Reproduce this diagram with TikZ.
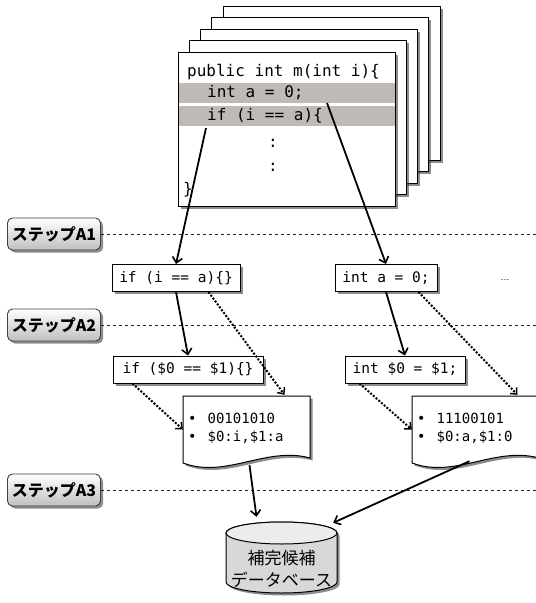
\documentclass[tikz,border=0pt]{standalone}
\usepackage{fontspec}
\setmainfont{Liberation Sans}
\newfontfamily\jp{Noto Sans CJK JP}
\newfontfamily\code{DejaVu Sans Mono}
\usetikzlibrary{arrows.meta,shadows,calc}
\definecolor{barcol}{RGB}{191,186,181}
\definecolor{dbbody}{RGB}{216,216,216}
\definecolor{dbtop}{RGB}{236,236,236}
\tikzset{
  shad/.style={drop shadow={shadow xshift=2.5pt,shadow yshift=-2.5pt,fill=black!75,opacity=0.6}},
  page/.style={draw=black,fill=white,line width=1pt,shad},
  steplabel/.style={draw=black!75,line width=0.9pt,rounded corners=5pt,top color=white,bottom color=black!25,
     minimum width=93pt,minimum height=32pt,inner sep=0pt,font=\jp\bfseries\fontsize{16}{16}\selectfont,shad},
  stepline/.style={draw=black!85,line width=0.9pt,dash pattern=on 3.5pt off 2.5pt},
  codebox/.style={draw=black,fill=white,line width=1pt,inner xsep=5pt,inner ysep=0pt,minimum height=27pt,
     font=\code\fontsize{14.5}{15}\selectfont,shad},
  doc/.style={draw=black,fill=white,line width=1pt,shad},
  sol/.style={line width=1.8pt,-{Straight Barb[length=5.5pt,width=10pt,line width=1.6pt]}},
  dot/.style={line width=2pt,dash pattern=on 2pt off 1.6pt,-{Straight Barb[length=5pt,width=9pt,line width=1.5pt]}},
  codetxt/.style={anchor=west,inner sep=0pt,font=\code\fontsize{16}{16}\selectfont},
  doctxt/.style={anchor=west,inner sep=0pt,align=left,font=\code\fontsize{14}{18}\selectfont},
}
\begin{document}
\begin{tikzpicture}[x=1pt,y=-1pt]
\useasboundingbox[fill=white] (0,0) rectangle (536,603);
% stacked pages (back to front)
\foreach \k in {4,3,2,1}{
  \filldraw[page] ({178+11.3*\k},{52-11.5*\k}) rectangle ++(217,154);
}
\filldraw[page] (178,52) rectangle (395,206);
\fill[barcol] (178.5,83) rectangle (394.5,103);
\fill[barcol] (178.5,106) rectangle (394.5,126);
\node[codetxt] (l1) at (187,72) {public int m(int i)\{};
\node[codetxt] (l2) at (207,93) {int a = 0;};
\node[codetxt] (l3) at (207,116) {if (i == a)\{};
\node[codetxt,anchor=center] (l4) at (273,143) {:};
\node[codetxt,anchor=center] (l5) at (273,167) {:};
\node[codetxt] (l6) at (183,190) {\}};
\coordinate (p1) at (206,128);
\coordinate (p2) at (327,103);

% step labels and lines
\node[steplabel] (a1) at (54,234) {ステップA1};
\node[steplabel] (a2) at (54,325) {ステップA2};
\node[steplabel] (a3) at (54,490) {ステップA3};
\coordinate (e1) at (536,234);
\coordinate (e2) at (536,325);
\coordinate (e3) at (536,490);
\draw[stepline] (a1.east) -- (e1);
\draw[stepline] (a2.east) -- (e2);
\draw[stepline] (a3.east) -- (e3);

% code boxes
\node[codebox,minimum width=128pt] (b1) at (176,278) {if (i == a)\{\}};
\node[codebox,minimum width=102pt] (b2) at (386,278) {int a = 0;};
\node[codebox,minimum width=150pt] (b3) at (188,369.5) {if (\$0 == \$1)\{\}};
\node[codebox,minimum width=120pt] (b4) at (405,369.5) {int \$0 = \$1;};
\node[font=\fontsize{9}{9}\selectfont] (dots) at (505,280) {\dots};

% documents
\node[minimum width=127pt,minimum height=67pt,inner sep=0pt] (d1) at (246.5,429.5) {};
\node[minimum width=127pt,minimum height=67pt,inner sep=0pt] (d2) at (475.5,429.5) {};
\filldraw[doc] (183,396) -- (310,396) -- (310,458) .. controls (266,446) and (226,479) .. (183,463) -- cycle;
\filldraw[doc] (412,396) -- (539,396) -- (539,458) .. controls (495,446) and (455,479) .. (412,463) -- cycle;
\node[doctxt] (t1) at (188,428) {\textbullet\hspace{11pt}00101010\\\textbullet\hspace{11pt}\$0:i,\$1:a};
\node[doctxt] (t2) at (417,428) {\textbullet\hspace{11pt}11100101\\\textbullet\hspace{11pt}\$0:a,\$1:0};

% database
\filldraw[draw=black,fill=dbbody,line width=1pt,shad]
  (226,533) -- (226,582) arc[start angle=180,end angle=0,x radius=55.5,y radius=11]
  -- (337,533) arc[start angle=0,end angle=-180,x radius=55.5,y radius=11] -- cycle;
\filldraw[draw=black,fill=dbtop,line width=1pt] (281.5,533) ellipse[x radius=55.5,y radius=11];
\node[minimum width=111pt,minimum height=71pt,inner sep=0pt] (db) at (281.5,557.5) {};
\node[align=center,font=\jp\fontsize{17}{22}\selectfont] (dbt) at (281.5,569) {補完候補\\データベース};

% connectors
\draw[sol] (p1) -- (b1.north);
\draw[sol] (p2) -- (b2.north);
\draw[sol] (b1.south) -- (b3.north);
\draw[sol] (b2.south) -- (b4.north);
\draw[dot] ([xshift=-32pt]b1.south east) -- ([xshift=38pt,yshift=1pt]d1.north);
\draw[dot] ([xshift=20pt]b3.south west) -- (d1.west);
\draw[dot] ([xshift=-19pt]b2.south east) -- ([xshift=42pt,yshift=1pt]d2.north);
\draw[dot] ([xshift=15pt]b4.south west) -- (d2.west);
\draw[sol] ([xshift=3pt,yshift=-2pt]d1.south) -- ([xshift=-25pt,yshift=5pt]db.north);
\draw[sol] ([xshift=-6pt,yshift=2pt]d2.south) -- ([xshift=-4pt,yshift=-1pt]db.north east);
\end{tikzpicture}
\end{document}
